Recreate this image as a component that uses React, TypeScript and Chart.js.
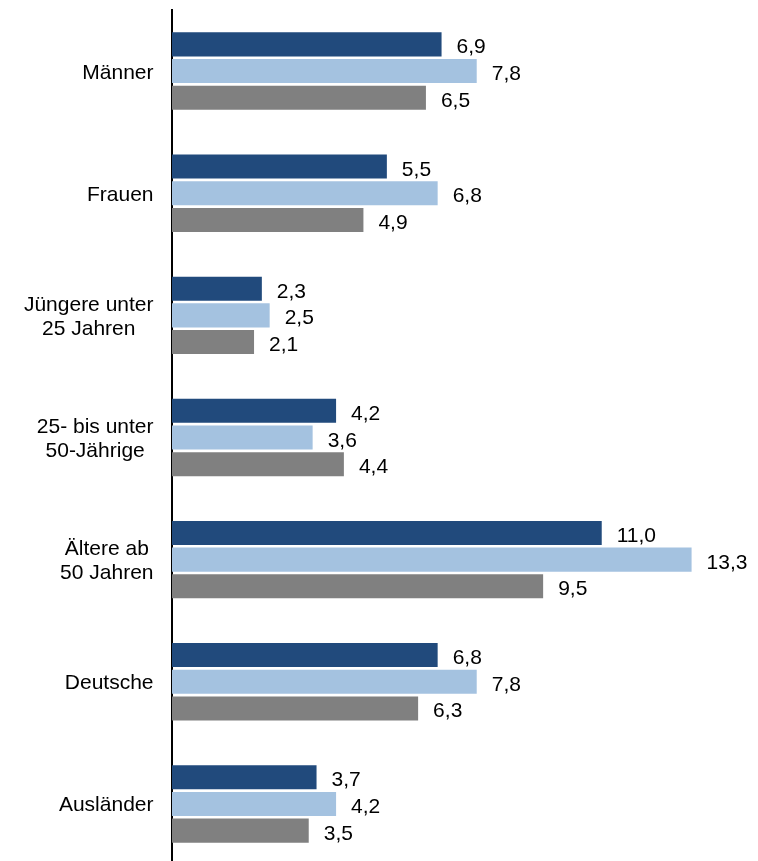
import React, { useEffect, useRef } from "react";
import { Chart, registerables } from "chart.js";

Chart.register(...registerables);

const categories: string[][] = [
  ["Männer"],
  ["Frauen"],
  ["Jüngere unter", "25 Jahren"],
  ["25- bis unter", "50-Jährige"],
  ["Ältere ab", "50 Jahren"],
  ["Deutsche"],
  ["Ausländer"],
];
const series1: number[] = [6.9, 5.5, 2.3, 4.2, 11.0, 6.8, 3.7];
const series2: number[] = [7.8, 6.8, 2.5, 3.6, 13.3, 7.8, 4.2];
const series3: number[] = [6.5, 4.9, 2.1, 4.4, 9.5, 6.3, 3.5];
const seriesNames: string[] = ["Reihe 1", "Reihe 2", "Reihe 3"];
const colors: string[] = ["#214A7C", "#A4C2E0", "#808080"];

const FONT = "21px 'Liberation Sans', Arial, sans-serif";

const valueLabels = {
  id: "valueLabels",
  afterDatasetsDraw(chart: any) {
    const ctx = chart.ctx;
    ctx.save();
    ctx.font = FONT;
    ctx.fillStyle = "#000";
    ctx.textAlign = "left";
    ctx.textBaseline = "alphabetic";
    chart.data.datasets.forEach((ds: any, di: number) => {
      const meta = chart.getDatasetMeta(di);
      meta.data.forEach((bar: any, i: number) => {
        const v = ds.data[i] as number;
        const txt = v.toFixed(1).replace(".", ",");
        ctx.fillText(txt, bar.x + 15, bar.y + 9);
      });
    });
    ctx.restore();
  },
};

const categoryLabels = {
  id: "categoryLabels",
  afterDraw(chart: any) {
    const ctx = chart.ctx;
    const yScale = chart.scales.y;
    const right = 153.5;
    const lh = 24;
    ctx.save();
    ctx.font = FONT;
    ctx.fillStyle = "#000";
    ctx.textBaseline = "alphabetic";
    ctx.textAlign = "center";
    categories.forEach((lines, i) => {
      const y = yScale.getPixelForTick(i);
      const maxW = Math.max(...lines.map((l) => ctx.measureText(l).width));
      const cx = right - maxW / 2;
      const n = lines.length;
      lines.forEach((l, j) => {
        const ly = y + (j - (n - 1) / 2) * lh;
        ctx.fillText(l, cx, ly + 7.5);
      });
    });
    ctx.restore();
  },
};

export default function App() {
  const ref = useRef<HTMLCanvasElement | null>(null);
  useEffect(() => {
    if (!ref.current) return;
    const chart = new Chart(ref.current, {
      type: "bar",
      data: {
        labels: categories.map((c) => c.join(" ")),
        datasets: [series1, series2, series3].map((d, i) => ({
          label: seriesNames[i],
          data: d,
          backgroundColor: colors[i],
          borderWidth: 0,
          categoryPercentage: 0.656,
          barPercentage: 0.9,
        })),
      },
      options: {
        indexAxis: "y",
        animation: false,
        responsive: false,
        devicePixelRatio: 1,
        layout: { padding: { top: 10, bottom: 0, left: 0, right: 0 } },
        plugins: {
          legend: { display: false },
          tooltip: { enabled: false },
        },
        scales: {
          x: {
            display: false,
            min: 0,
            max: 15,
          },
          y: {
            z: 1,
            ticks: { display: false },
            grid: { display: false, drawTicks: false },
            border: { display: true, color: "#000", width: 2 },
            afterFit: (s: any) => {
              s.width = 172;
            },
          },
        },
      },
      plugins: [valueLabels, categoryLabels],
    });
    return () => chart.destroy();
  }, []);
  return (
    <div
      style={{
        position: "fixed",
        top: 0,
        left: 0,
        width: 758,
        height: 865,
        background: "#fff",
        overflow: "hidden",
      }}
    >
      <canvas ref={ref} width={758} height={865} style={{ width: 758, height: 865, display: "block" }} />
    </div>
  );
}
